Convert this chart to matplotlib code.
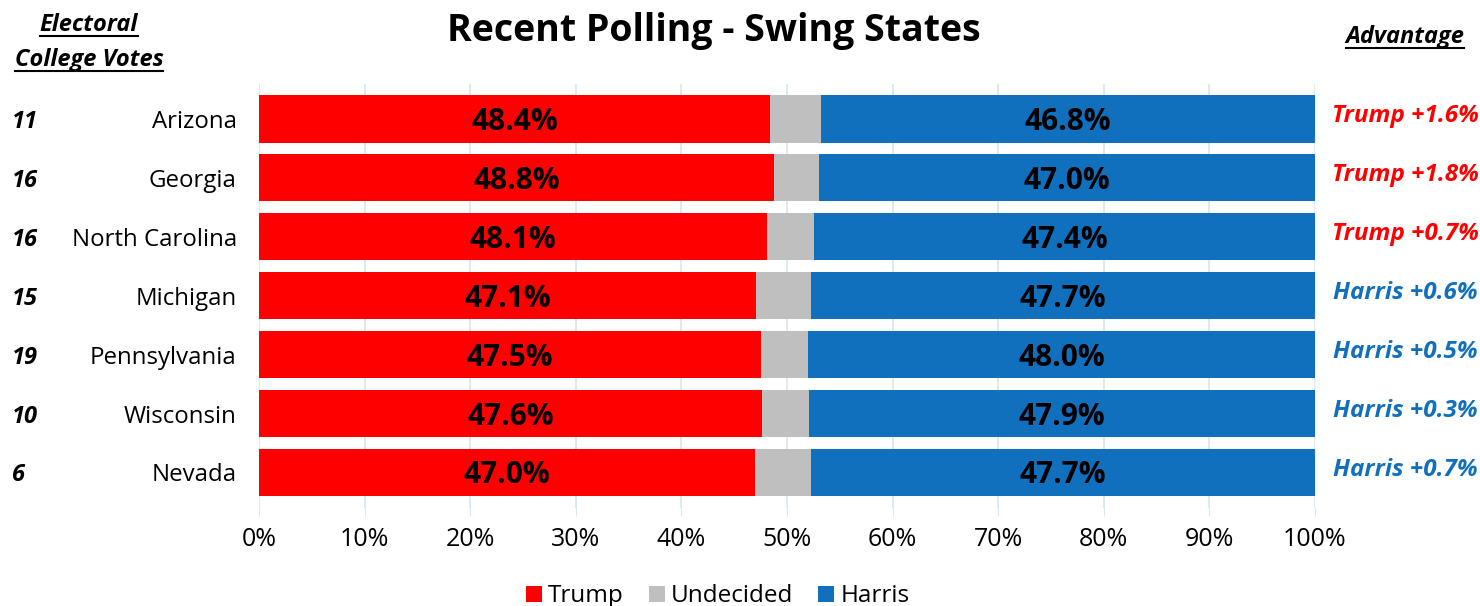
import matplotlib
matplotlib.use('Agg')
import matplotlib.pyplot as plt
import numpy as np

plt.rcParams['font.family'] = ['Open Sans', 'DejaVu Sans']

states = ['Arizona', 'Georgia', 'North Carolina', 'Michigan', 'Pennsylvania', 'Wisconsin', 'Nevada']
votes = ['11', '16', '16', '15', '19', '10', '6']
trump = [48.4, 48.8, 48.1, 47.1, 47.5, 47.6, 47.0]
harris = [46.8, 47.0, 47.4, 47.7, 48.0, 47.9, 47.7]

red = '#FF0000'
grey = '#BFBFBF'
blue = '#1170BD'

trump = np.array(trump)
harris = np.array(harris)
undecided = 100 - trump - harris

fig = plt.figure(figsize=(14.8, 6.06), dpi=100)
ax = fig.add_axes([0.175, 0.162, 0.7135, 0.7])
y = np.arange(len(states))

ax.barh(y, trump, height=0.8, color=red, label='Trump', zorder=2)
ax.barh(y, undecided, left=trump, height=0.8, color=grey, label='Undecided', zorder=2)
ax.barh(y, harris, left=trump + undecided, height=0.8, color=blue, label='Harris', zorder=2)

rowtf = matplotlib.transforms.blended_transform_factory(fig.transFigure, ax.transData)
for i in range(len(states)):
    ax.text(trump[i] / 2, y[i] + 0.05, f'{trump[i]:.1f}%', ha='center', va='center',
            fontsize=21.5, fontweight='bold', color='black', zorder=3)
    ax.text(100 - harris[i] / 2, y[i] + 0.05, f'{harris[i]:.1f}%', ha='center', va='center',
            fontsize=21.5, fontweight='bold', color='black', zorder=3)
    diff = trump[i] - harris[i]
    if diff > 0:
        s, c = f'Trump +{diff:.1f}%', red
    else:
        s, c = f'Harris +{-diff:.1f}%', blue
    ax.text(1405 / 1480, y[i] - 0.05, s, transform=rowtf, ha='center', va='center',
            fontsize=17.5, fontweight='bold', fontstyle='italic', color=c)
    ax.text(12 / 1480, y[i] + 0.05, votes[i], transform=rowtf,
            ha='left', va='center', fontsize=17, fontweight='bold', fontstyle='italic')

ax.set_xlim(0, 100)
ax.set_ylim(6.6, -0.6)
ax.set_yticks(y)
ax.set_yticklabels(states, fontsize=17.3)
ax.set_xticks(np.arange(0, 101, 10))
ax.set_xticklabels([f'{v}%' for v in range(0, 101, 10)], fontsize=18)
ax.tick_params(axis='y', length=0, pad=16)
ax.tick_params(axis='x', length=6, color='#D6E6F2', pad=8)
ax.grid(axis='x', color='#D6E6F2', linewidth=1.2, zorder=0)
for sp in ax.spines.values():
    sp.set_visible(False)

fig.text(0.4825, 1 - 31 / 606, 'Recent Polling - Swing States', ha='center', va='center',
         fontsize=27, fontweight='bold')

headers = [
    fig.text(89 / 1480, 1 - 25 / 606, 'Electoral', ha='center', va='center', fontsize=17, fontweight='bold', fontstyle='italic'),
    fig.text(89 / 1480, 1 - 60 / 606, 'College Votes', ha='center', va='center', fontsize=17, fontweight='bold', fontstyle='italic'),
    fig.text(1405 / 1480, 1 - 37 / 606, 'Advantage', ha='center', va='center', fontsize=17, fontweight='bold', fontstyle='italic'),
]

fig.legend(loc='lower center', bbox_to_anchor=(0.485, -0.04), ncol=3, frameon=False, fontsize=17.5,
           handlelength=0.66, handleheight=0.66, handletextpad=0.25, columnspacing=1.03)

# underline the header texts
fig.canvas.draw()
r = fig.canvas.get_renderer()
for t in headers:
    bb = t.get_window_extent(r).transformed(fig.transFigure.inverted())
    fig.add_artist(plt.Line2D([bb.x0, bb.x1], [bb.y0 + 0.002, bb.y0 + 0.002], transform=fig.transFigure,
                              color='black', linewidth=1.5))

plt.savefig('out.png', dpi=100)
